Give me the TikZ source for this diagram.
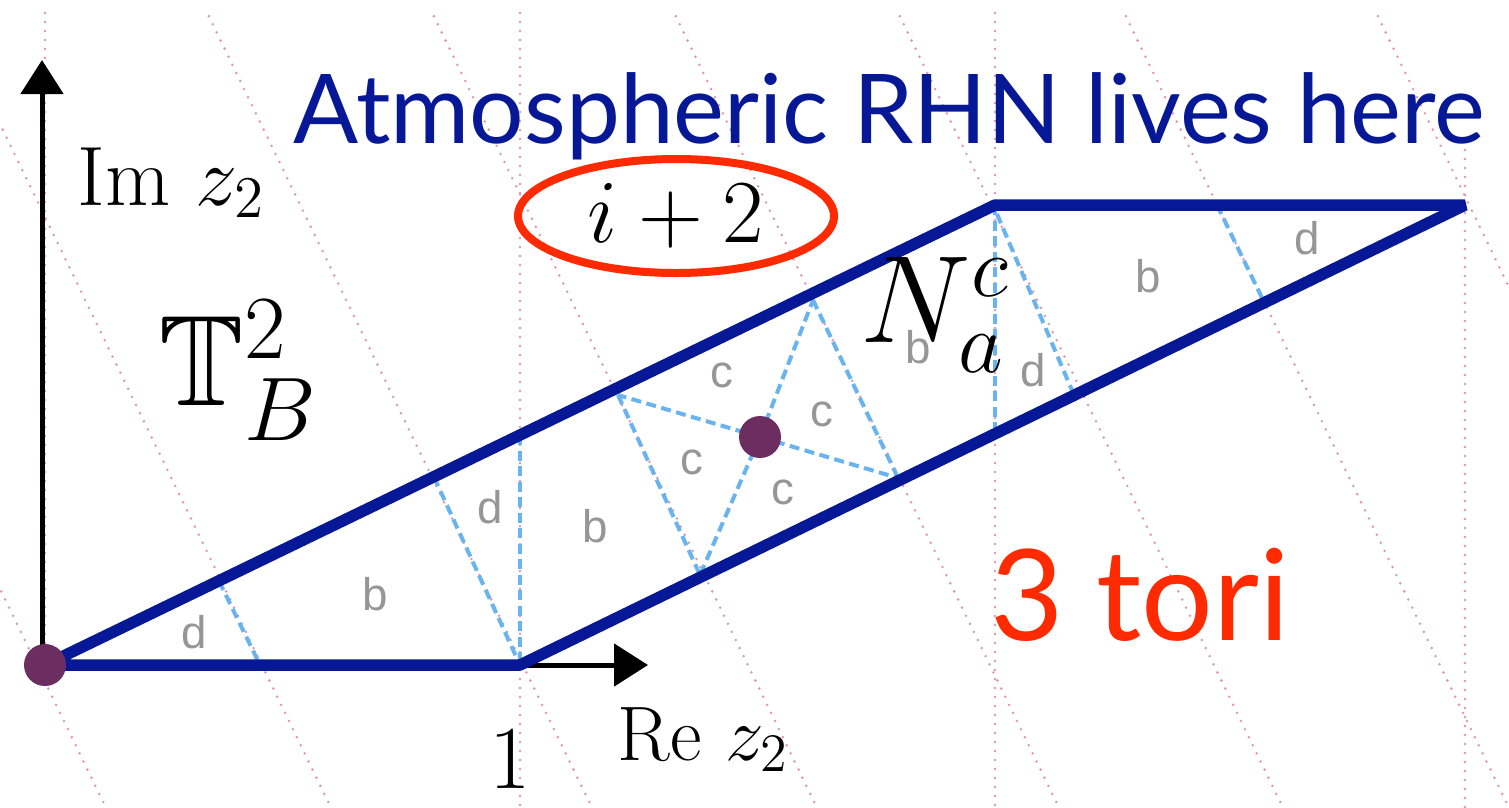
\RequirePackage{fix-cm}
\documentclass[tikz,border=0pt]{standalone}
\usepackage{amsmath, amssymb}
\usepackage{fontspec}
\usepackage{xcolor}
\usetikzlibrary{arrows.meta, shapes.geometric}
\newfontfamily\gillfont{Lato}
\newfontfamily\cellfont{Liberation Sans}
\definecolor{navy}{RGB}{6,24,150}
\definecolor{torired}{RGB}{255,42,0}
\definecolor{cutblue}{RGB}{105,180,238}
\definecolor{latpink}{RGB}{222,150,178}
\definecolor{fixpurple}{RGB}{108,46,96}
\definecolor{cellgray}{RGB}{150,150,150}

\begin{document}
\begin{tikzpicture}[x=0.1mm, y=-0.1mm,
      edge/.style={navy, line width=1.15mm, line join=bevel},
      cut/.style={cutblue, line width=0.4mm, dash pattern=on 1mm off 0.55mm},
      lattice/.style={latpink, line width=0.28mm, line cap=round, dash pattern=on 0mm off 0.9mm},
      axis/.style={black, line width=0.5mm, -{Triangle[length=3.4mm, width=4.2mm]}},
      cell/.style={font=\cellfont\fontsize{13}{15}\selectfont, text=cellgray, inner sep=0pt},
      lbl/.style={anchor=base west, inner sep=0pt}]
    \fill[white] (0,0) rectangle (1509,807);
    \useasboundingbox (0,0) rectangle (1509,807);
    % lattice lines
    \begin{scope}
      \clip (0,13) rectangle (1509,807);
      \foreach \t in {-285,-60,201,426,668,892,1118,1370}
        \draw[lattice] (\t,0) -- ++(390.6,807);
    \end{scope}
    \draw[lattice] (45,13) -- (45,665);
    \foreach \vx in {520,995} \draw[lattice] (\vx,13) -- (\vx,807);
    \draw[lattice] (1465,150) -- (1465,807);
    % corners
    \coordinate (O) at (45,665);   \coordinate (one) at (520,665);
    \coordinate (tip) at (1465,205); \coordinate (ip2) at (995,205);
    \coordinate (mid) at (760,437);
    % cuts
    \draw[cut] (219,581) -- (260,665);
    \draw[cut] (434,477) -- (one);  \draw[cut] (520,435) -- (one);
    \draw[cut] (618,395) -- (700,575); \draw[cut] (813,300) -- (898,478);
    \foreach \p in {(618,395),(813,300),(898,478),(700,575)}
      \draw[cut] (mid) -- \p;
    \draw[cut] (ip2) -- (995,434);
    \draw[cut] (997,214) -- (1074,395);
    \draw[cut] (1217,205) -- (1264,302);
    % axes
    \draw[axis] (42,665) -- (42,60);
    \draw[axis] (O) -- (648,665);
    % torus
    \draw[edge] (O) -- (one) -- (tip) -- (ip2) -- cycle;
    \fill[fixpurple] (O) circle[radius=2.1mm];
    \fill[fixpurple] (mid) circle[radius=2.1mm];
    % regions
    \node[cell] (d1) at (194,632) {d}; \node[cell] (b1) at (375,594) {b};
    \node[cell] (d2) at (490,507) {d}; \node[cell] (b2) at (595,526) {b};
    \node[cell] (c1) at (722,375) {c}; \node[cell] (c2) at (822,414) {c};
    \node[cell] (c3) at (692,462) {c}; \node[cell] (c4) at (783,492) {c};
    \node[cell] (b3) at (918,347) {b}; \node[cell] (d3) at (1033,370) {d};
    \node[cell] (b4) at (1148,276) {b}; \node[cell] (d4) at (1307,238) {d};
    % labels
    \node[lbl, text=navy, font=\gillfont\fontsize{27.4}{30}\selectfont] (title) at (293,143) {Atmospheric RHN lives here};
    \node[lbl, text=torired, font=\gillfont\fontsize{36}{40}\selectfont] (tori) at (990,640) {3 tori};
    \node[ellipse, draw=torired, line width=0.8mm, minimum width=31.6mm, minimum height=11.4mm,
      inner sep=0pt, font=\fontsize{25.6}{28}\selectfont] (ipt) at (676,216) {$i+2$};
    \node[lbl, font=\fontsize{24}{26}\selectfont] (imlab) at (77,205) {$\mathrm{Im}\ z_2$};
    \node[lbl, font=\fontsize{22}{26}\selectfont] (relab) at (617,760) {$\mathrm{Re}\ z_2$};
    \node[anchor=base, inner sep=0pt, font=\fontsize{25.6}{28}\selectfont] (unit) at (510,788) {$1$};
    \node[lbl, font=\fontsize{36.7}{40}\selectfont] (torus) at (158,405) {$\mathbb{T}^2_B$};
    \node[lbl, font=\fontsize{35.4}{40}\selectfont] (brane) at (860,342) {$N^c_a$};
  \end{tikzpicture}
\end{document}
